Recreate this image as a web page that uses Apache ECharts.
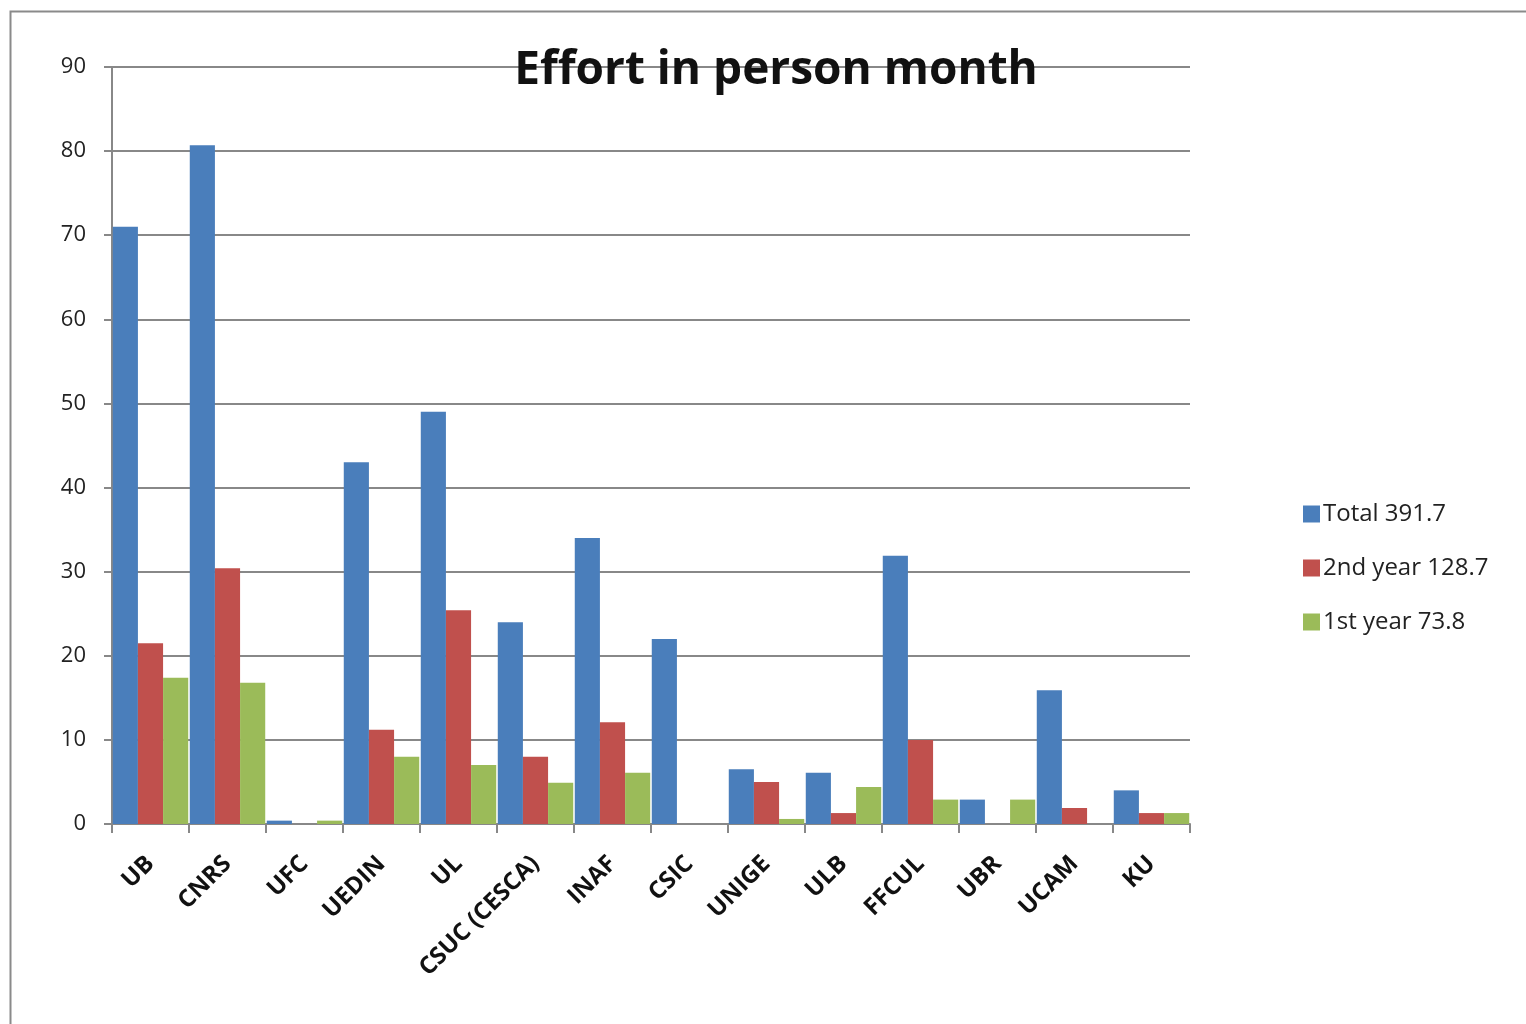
<!DOCTYPE html>
<html>
<head>
<meta charset="utf-8">
<script src="https://cdn.jsdelivr.net/npm/echarts@6/dist/echarts.min.js"></script>
<style>
html,body{margin:0;padding:0;background:#fff;}
#c{width:1526px;height:1024px;}
</style>
</head>
<body>
<div id="c"></div>
<script>
const categories = ['UB','CNRS','UFC','UEDIN','UL','CSUC (CESCA)','INAF','CSIC','UNIGE','ULB','FFCUL','UBR','UCAM','KU'];
const totalValues = [71, 80.7, 0.4, 43, 49, 24, 34, 22, 6.5, 6.1, 31.9, 2.9, 15.9, 4];
const secondYearValues = [21.5, 30.4, 0, 11.2, 25.4, 8, 12.1, 0, 5, 1.3, 10, 0, 1.9, 1.3];
const firstYearValues = [17.4, 16.8, 0.4, 8, 7, 4.9, 6.1, 0, 0.6, 4.4, 2.9, 2.9, 0, 1.3];
const seriesNames = ['Total 391.7', '2nd year 128.7', '1st year 73.8'];
const yTicks = [0, 10, 20, 30, 40, 50, 60, 70, 80, 90];

const chart = echarts.init(document.getElementById('c'));
const font = "'Open Sans', 'DejaVu Sans', sans-serif";
chart.setOption({
  animation: false,
  backgroundColor: '#fff',
  graphic: [{
    type: 'rect', left: 8, top: 9,
    shape: {width: 1600, height: 1100},
    style: {fill: 'none', stroke: '#8a8a8a', lineWidth: 2}
  }],
  title: {
    text: 'Effort in person month',
    left: 771, top: 43, textAlign: 'center',
    textStyle: {fontFamily: font, fontWeight: 'bold', fontSize: 46, color: '#111'}
  },
  color: ['#4A7EBB', '#C0504D', '#9BBB59'],
  legend: {
    orient: 'vertical', left: 1298, top: 497, itemGap: 30,
    itemWidth: 17, itemHeight: 17, icon: 'rect',
    textStyle: {fontFamily: font, fontSize: 24, color: '#222', padding: [0,0,0,-2]},
    data: seriesNames
  },
  grid: {left: 112, right: 336, top: 67, bottom: 200, containLabel: false},
  xAxis: {
    type: 'category', data: categories,
    axisLine: {lineStyle: {color: '#888', width: 2}},
    axisTick: {show: true, length: 9, lineStyle: {color: '#888', width: 2}},
    axisLabel: {rotate: 45, margin: 36, fontFamily: font, fontSize: 24, fontWeight: 'bold', color: '#111', interval: 0}
  },
  yAxis: {
    type: 'value', min: 0, max: 90, interval: 10,
    axisLine: {show: true, lineStyle: {color: '#888', width: 2}},
    axisTick: {show: true, length: 8, lineStyle: {color: '#888', width: 2}},
    splitLine: {lineStyle: {color: '#888', width: 2}},
    axisLabel: {margin: 26, fontFamily: font, fontSize: 22, color: '#222',
      formatter: v => yTicks.includes(v) ? String(v) : ''}
  },
  series: [
    {name: seriesNames[0], type: 'bar', data: totalValues, barGap: '0%', barCategoryGap: '2%'},
    {name: seriesNames[1], type: 'bar', data: secondYearValues, barGap: '0%', barCategoryGap: '2%'},
    {name: seriesNames[2], type: 'bar', data: firstYearValues, barGap: '0%', barCategoryGap: '2%'}
  ]
});
</script>
</body>
</html>
